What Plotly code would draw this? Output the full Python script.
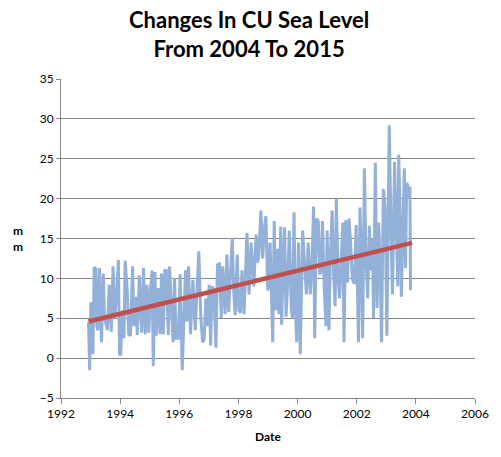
import plotly.graph_objects as go

# sea level readings (decimal year, mm)
years = [
    1992.93, 1992.97, 1993.01, 1993.08, 1993.12, 1993.18, 1993.21, 1993.25, 1993.30, 1993.37,
    1993.43, 1993.47, 1993.54, 1993.57, 1993.63, 1993.70, 1993.76, 1993.82, 1993.88, 1993.94,
    1993.98, 1994.02, 1994.08, 1994.13, 1994.17, 1994.24, 1994.29, 1994.35, 1994.42, 1994.47,
    1994.53, 1994.58, 1994.65, 1994.73, 1994.79, 1994.85, 1994.91, 1994.97, 1995.03, 1995.08,
    1995.12, 1995.18, 1995.22, 1995.28, 1995.35, 1995.40, 1995.46, 1995.51, 1995.56, 1995.63,
    1995.67, 1995.74, 1995.79, 1995.84, 1995.89, 1995.97, 1996.03, 1996.10, 1996.16, 1996.21,
    1996.26, 1996.31, 1996.38, 1996.46, 1996.54, 1996.60, 1996.66, 1996.73, 1996.79, 1996.84,
    1996.90, 1996.96, 1997.01, 1997.06, 1997.11, 1997.17, 1997.24, 1997.29, 1997.36, 1997.42,
    1997.47, 1997.55, 1997.61, 1997.67, 1997.74, 1997.79, 1997.84, 1997.89, 1997.96, 1998.01,
    1998.07, 1998.12, 1998.19, 1998.25, 1998.29, 1998.36, 1998.43, 1998.52, 1998.60, 1998.65,
    1998.69, 1998.76, 1998.82, 1998.88, 1998.93, 1998.99, 1999.02, 1999.07, 1999.11, 1999.16,
    1999.21, 1999.27, 1999.31, 1999.37, 1999.43, 1999.46, 1999.51, 1999.56, 1999.61, 1999.66,
    1999.72, 1999.79, 1999.83, 1999.88, 1999.92, 1999.97, 2000.03, 2000.09, 2000.17, 2000.24,
    2000.30, 2000.36, 2000.43, 2000.48, 2000.54, 2000.58, 2000.64, 2000.70, 2000.75, 2000.80,
    2000.84, 2000.90, 2000.96, 2001.00, 2001.06, 2001.11, 2001.17, 2001.22, 2001.27, 2001.31,
    2001.37, 2001.42, 2001.47, 2001.53, 2001.57, 2001.63, 2001.69, 2001.74, 2001.80, 2001.85,
    2001.92, 2001.98, 2002.06, 2002.11, 2002.16, 2002.20, 2002.26, 2002.31, 2002.37, 2002.43,
    2002.48, 2002.53, 2002.57, 2002.63, 2002.69, 2002.74, 2002.79, 2002.84, 2002.90, 2002.96,
    2003.02, 2003.10, 2003.17, 2003.21, 2003.28, 2003.34, 2003.39, 2003.42, 2003.47, 2003.51,
    2003.55, 2003.61, 2003.65, 2003.69, 2003.73, 2003.76, 2003.80, 2003.82,
]
sea_level = [
    4.5, -1.5, 7.0, 0.5, 11.4, 11.2, 4.0, 3.5, 11.3, 2.0,
    10.6, 5.0, 4.0, 3.5, 9.2, 3.3, 11.5, 5.0, 8.0, 12.3,
    0.5, 0.5, 6.0, 2.5, 12.2, 8.5, 3.0, 2.8, 11.5, 4.0,
    7.7, 2.9, 10.4, 3.2, 11.3, 3.0, 9.2, 3.2, 8.8, 11.0,
    -1.0, 10.8, 2.8, 8.8, 3.0, 10.6, 3.0, 11.0, 11.0, 2.9,
    11.5, 5.0, 2.0, 10.0, 2.5, 2.5, 10.5, -1.5, 4.5, 11.0,
    4.6, 11.5, 3.0, 9.8, 3.5, 8.0, 13.4, 5.0, 2.0, 2.3,
    7.5, 4.0, 9.2, 1.6, 9.0, 8.5, 1.3, 11.7, 11.8, 5.0,
    11.5, 5.5, 13.0, 5.8, 11.5, 15.1, 8.5, 5.4, 13.0, 6.0,
    5.7, 11.0, 5.5, 11.0, 15.7, 8.0, 14.5, 9.0, 15.5, 12.0,
    13.0, 18.5, 12.5, 16.5, 17.8, 8.5, 9.0, 14.5, 9.5, 2.0,
    17.2, 6.0, 13.7, 5.5, 16.5, 4.2, 11.0, 16.4, 5.2, 9.0,
    16.0, 6.0, 5.0, 18.3, 7.0, 2.0, 14.5, 0.5, 16.0, 12.0,
    8.0, 14.5, 8.0, 11.0, 19.0, 2.5, 17.5, 17.2, 10.5, 11.0,
    17.2, 9.0, 4.0, 16.0, 3.5, 13.0, 18.5, 10.5, 6.5, 20.0,
    10.0, 7.5, 12.0, 17.0, 2.0, 17.3, 9.5, 17.5, 14.0, 10.0,
    9.3, 16.7, 2.0, 18.9, 11.5, 2.5, 23.8, 13.0, 7.5, 16.6,
    11.0, 15.0, 5.0, 24.5, 6.3, 17.0, 12.0, 2.0, 21.2, 19.0,
    2.8, 29.2, 14.0, 8.0, 24.6, 17.5, 9.0, 25.5, 18.0, 7.7,
    14.0, 23.8, 11.3, 22.0, 21.6, 20.0, 21.5, 8.5,
]

# linear trend end points
trend_years = [1992.93, 2003.87]
trend_values = [4.6, 14.45]

x_ticks = [1992, 1994, 1996, 1998, 2000, 2002, 2004, 2006]
y_ticks = [-5, 0, 5, 10, 15, 20, 25, 30, 35]

grid_col = "#868686"
font_main = "Lato, 'Open Sans', sans-serif"

fig = go.Figure()

fig.add_trace(go.Scatter(
    x=years, y=sea_level,
    mode="lines",
    line=dict(color="#93B0D8", width=3),
    hoverinfo="x+y"
))

fig.add_trace(go.Scatter(
    x=trend_years, y=trend_values,
    mode="lines",
    line=dict(color="#C0504D", width=4.5),
    hoverinfo="skip"
))

fig.update_layout(
    width=501, height=457,
    margin=dict(l=61, r=24, t=79, b=59),
    paper_bgcolor="white",
    plot_bgcolor="white",
    showlegend=False,
    font=dict(family=font_main, size=12, color="#222222"),
    annotations=[
        # title, centred on the whole picture rather than the plot area
        dict(
            text="<b>Changes In CU Sea Level<br>From 2004 To 2015</b>",
            xref="paper", yref="paper",
            x=(250 - 61) / 416, y=1.0 + 45.5 / 319,
            xanchor="center", yanchor="middle",
            showarrow=False,
            font=dict(family=font_main, size=22, color="black"),
        ),
        dict(
            text="<b>m<br>m</b>",
            xref="paper", yref="paper",
            x=-0.103, y=0.5,
            xanchor="center", yanchor="middle",
            showarrow=False,
            font=dict(family=font_main, size=12, color="black"),
        ),
    ],
)

fig.update_xaxes(
    range=[1992, 2006],
    tickvals=x_ticks,
    ticktext=[str(t) for t in x_ticks],
    showgrid=False,
    zeroline=False,
    showline=True, linecolor=grid_col, linewidth=1,
    ticks="outside", ticklen=5, tickcolor=grid_col,
    tickfont=dict(size=12, color="black"),
    title=dict(text="<b>Date</b>", font=dict(size=12, color="black"), standoff=12),
)

fig.update_yaxes(
    range=[-5, 35],
    tickvals=y_ticks,
    showgrid=True, gridcolor=grid_col, gridwidth=1,
    zeroline=False,
    showline=True, linecolor=grid_col, linewidth=1,
    ticks="outside", ticklen=4, tickcolor=grid_col,
    tickfont=dict(size=12, color="black"),
)

fig.write_html(
    "out.html",
    config={"displayModeBar": False},
    post_script="document.body.style.margin='0';",
)
